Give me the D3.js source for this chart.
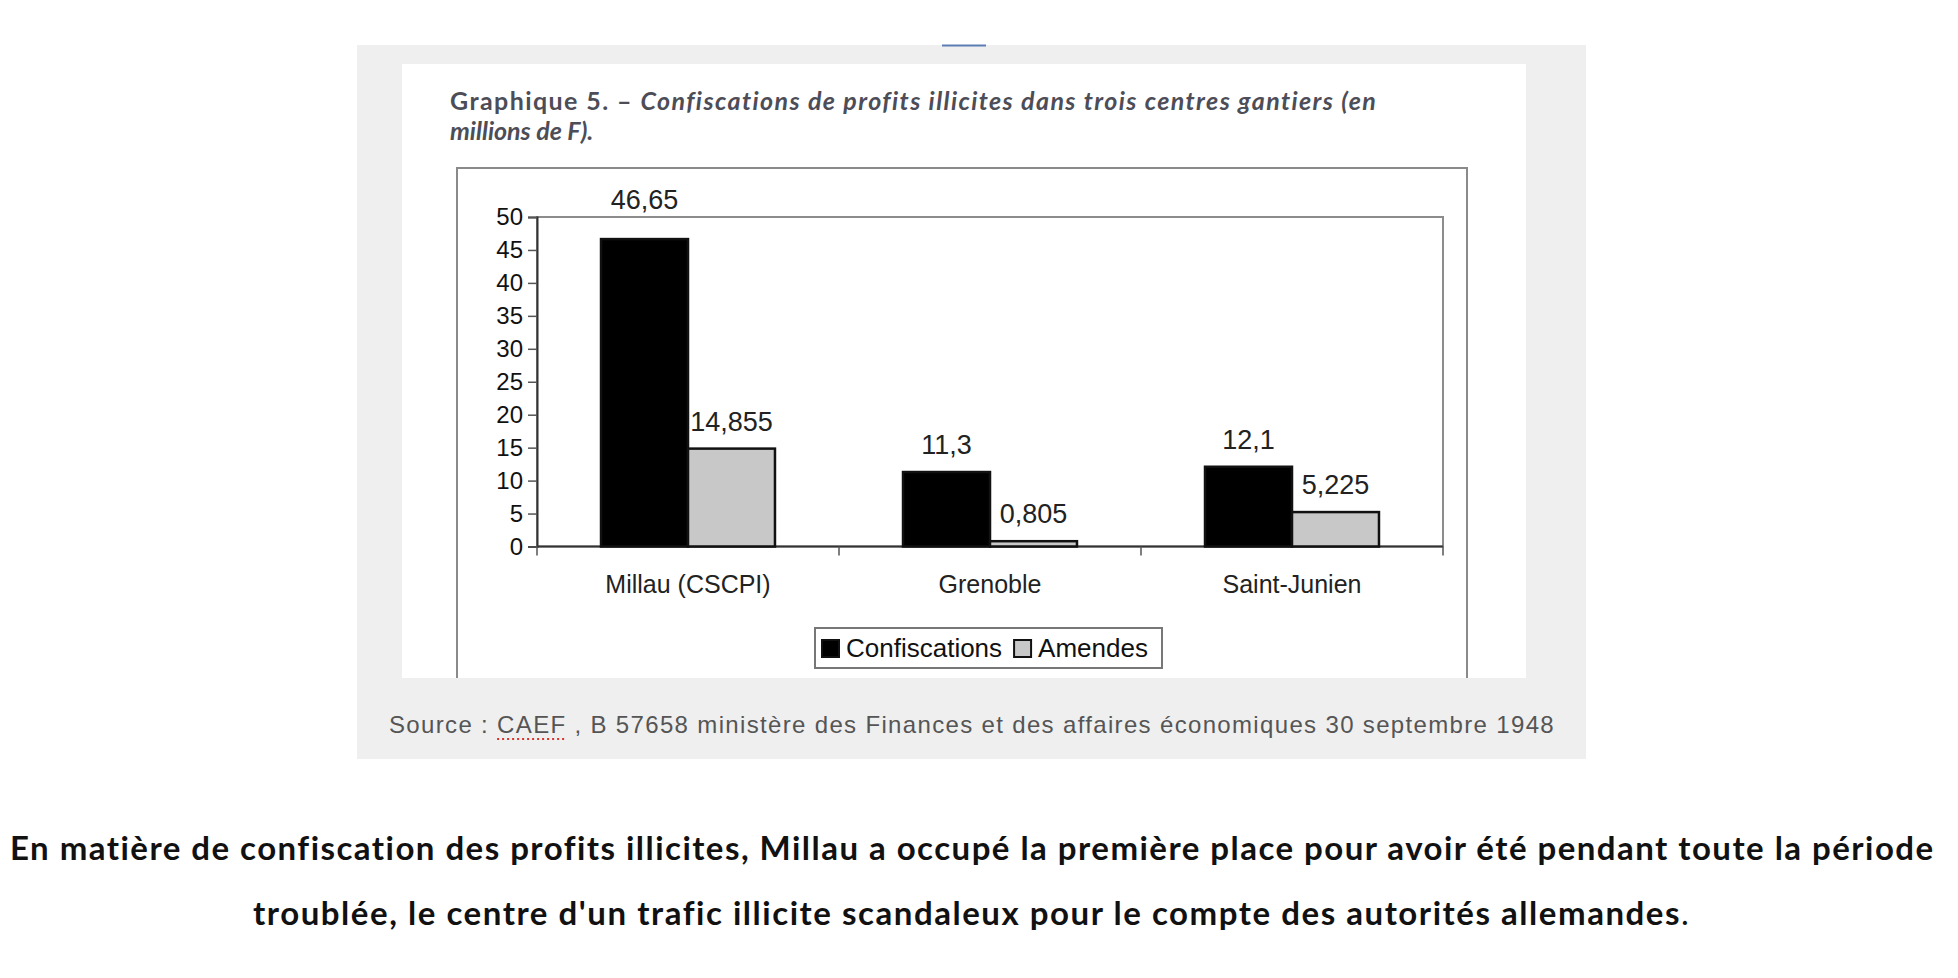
<!DOCTYPE html>
<html>
<head>
<meta charset="utf-8">
<script src="https://cdn.jsdelivr.net/npm/d3@7"></script>
<style>
body { margin: 0; background: #fff; }
</style>
</head>
<body>
<script>
// data
let categories = ["Millau (CSCPI)", "Grenoble", "Saint-Junien"];
let seriesNames = ["Confiscations", "Amendes"];
let confiscations = [46.65, 11.3, 12.1];
let amendes = [14.855, 0.805, 5.225];
let yTicks = [0, 5, 10, 15, 20, 25, 30, 35, 40, 45, 50];

let titleBold = "Graphique 5. – ";
let titleLine1 = "Confiscations de profits illicites dans trois centres gantiers (en";
let titleLine2 = "millions de F).";
let sourceParts = ["Source : ", "CAEF", " , B 57658 ministère des Finances et des affaires économiques 30 septembre 1948"];
let paragraph = [
    "En matière de confiscation des profits illicites, Millau a occupé la première place pour avoir été pendant toute la période",
    "troublée, le centre d'un trafic illicite scandaleux pour le compte des autorités allemandes"
];

let seriesColors = new Map([["Confiscations", "#000"], ["Amendes", "#c8c8c8"]]);
let values = new Map([["Confiscations", confiscations], ["Amendes", amendes]]);

let W = 1958, H = 978;
let plot = {left: 537, right: 1443, top: 217, bottom: 546.5};
let chartFont = "'Liberation Sans', Arial, sans-serif";

let graph = d3.select("body").append("svg")
    .attr("width", W)
    .attr("height", H)
    .attr("viewBox", [0, 0, W, H]);

// stretch text to the width it has in the picture
function fit(sel, target) {
    let w = sel.node().getComputedTextLength();
    let n = sel.text().length;
    sel.attr("letter-spacing", (target - w) / n);
}

// page panels
graph.append("rect").attr("x", 357).attr("y", 45).attr("width", 1229).attr("height", 714).attr("fill", "#efefef");
graph.append("line").attr("x1", 942).attr("x2", 986).attr("y1", 45.5).attr("y2", 45.5)
    .attr("stroke", "#5b7fb5").attr("stroke-width", 2);
graph.append("rect").attr("x", 402).attr("y", 64).attr("width", 1124).attr("height", 614).attr("fill", "#fff");

// title
let t1 = graph.append("text")
    .attr("x", 450).attr("y", 110)
    .style("font-family", "Lato, 'Open Sans', sans-serif")
    .style("font-size", "25px")
    .style("font-weight", 700)
    .attr("fill", "#4d4d57");
t1.append("tspan").text(titleBold);
t1.append("tspan").style("font-style", "italic").text(titleLine1);
fit(t1, 926);
graph.append("text")
    .attr("x", 450).attr("y", 140)
    .style("font-family", "Lato, 'Open Sans', sans-serif")
    .style("font-size", "25px")
    .style("font-weight", 700)
    .style("font-style", "italic")
    .attr("fill", "#4d4d57")
    .text(titleLine2);

// chart frame, open at the bottom where the picture is cut
graph.append("path")
    .attr("d", "M457,678V168H1467V678")
    .attr("fill", "none")
    .attr("stroke", "#8a8a8a")
    .attr("stroke-width", 2);

let x = d3.scaleBand(categories, [plot.left, plot.right]).paddingInner(0.424).paddingOuter(0.212);
let xs = d3.scaleBand(seriesNames, [0, x.bandwidth()]);
let y = d3.scaleLinear([0, 50], [plot.bottom, plot.top]);

graph.append("rect")
    .attr("x", plot.left).attr("y", plot.top)
    .attr("width", plot.right - plot.left).attr("height", plot.bottom - plot.top)
    .attr("fill", "#fff")
    .attr("stroke", "#8c8c8c")
    .attr("stroke-width", 2);

// y axis
graph.append("g")
    .attr("transform", `translate(${plot.left},0)`)
    .call(d3.axisLeft(y).tickValues(yTicks).tickSize(9).tickPadding(5))
    .call(g => g.select(".domain").attr("stroke", "#333").attr("stroke-width", 2))
    .call(g => g.selectAll(".tick line").attr("stroke", "#555").attr("stroke-width", 1.5))
    .call(g => g.selectAll("text")
        .style("font-family", chartFont)
        .style("font-size", "24px")
        .attr("fill", "#111"));

// x axis
let bounds = d3.range(categories.length + 1).map(i => plot.left + i * x.step());
let xAxis = graph.append("g");
xAxis.append("line")
    .attr("x1", plot.left).attr("x2", plot.right)
    .attr("y1", y(0)).attr("y2", y(0))
    .attr("stroke", "#333").attr("stroke-width", 2);
xAxis.selectAll("line.tick")
    .data(bounds)
    .join("line")
    .attr("class", "tick")
    .attr("x1", d => d).attr("x2", d => d)
    .attr("y1", y(0)).attr("y2", y(0) + 9)
    .attr("stroke", "#555").attr("stroke-width", 1.5);
xAxis.selectAll("text")
    .data(categories)
    .join("text")
    .attr("x", d => x(d) + x.bandwidth() / 2)
    .attr("y", 593)
    .attr("text-anchor", "middle")
    .style("font-family", chartFont)
    .style("font-size", "25px")
    .attr("fill", "#222")
    .text(d => d);

// bars
let bars = [];
for (let s of seriesNames) {
    values.get(s).forEach((v, i) => bars.push({s: s, c: categories[i], v: v}));
}
graph.append("g")
    .selectAll("rect")
    .data(bars)
    .join("rect")
    .attr("x", d => x(d.c) + xs(d.s))
    .attr("y", d => y(d.v))
    .attr("width", xs.bandwidth())
    .attr("height", d => y(0) - y(d.v))
    .attr("fill", d => seriesColors.get(d.s))
    .attr("stroke", "#111")
    .attr("stroke-width", 2.5);

// value labels sit above the bar, or above the frame if they would cross it
function labelY(v) {
    let b = y(v) - 18;
    if (b - 20 < plot.top) b = plot.top - 8;
    return b;
}
graph.append("g")
    .selectAll("text")
    .data(bars)
    .join("text")
    .attr("x", d => x(d.c) + xs(d.s) + xs.bandwidth() / 2)
    .attr("y", d => labelY(d.v))
    .attr("text-anchor", "middle")
    .style("font-family", chartFont)
    .style("font-size", "27px")
    .attr("fill", "#222")
    .text(d => String(d.v).replace(".", ","));

// legend
let legend = graph.append("g");
legend.append("rect")
    .attr("x", 815).attr("y", 628).attr("width", 347).attr("height", 40)
    .attr("fill", "#fff").attr("stroke", "#777").attr("stroke-width", 2);
let lx = 822;
for (let s of seriesNames) {
    legend.append("rect")
        .attr("x", lx).attr("y", 640).attr("width", 17).attr("height", 17)
        .attr("fill", seriesColors.get(s)).attr("stroke", "#111").attr("stroke-width", 2);
    let lt = legend.append("text")
        .attr("x", lx + 24).attr("y", 657)
        .style("font-family", chartFont)
        .style("font-size", "26px")
        .attr("fill", "#111")
        .text(s);
    lx += 24 + lt.node().getComputedTextLength() + 12;
}

// source line
let src = graph.append("text")
    .attr("x", 389).attr("y", 733)
    .style("font-family", "'Liberation Sans', Arial, sans-serif")
    .style("font-size", "24px")
    .attr("fill", "#555");
src.selectAll("tspan").data(sourceParts).join("tspan").text(d => d);
fit(src, 1166);
let node = src.node();
let start = sourceParts[0].length;
let ux0 = node.getStartPositionOfChar(start).x;
let ux1 = node.getEndPositionOfChar(start + sourceParts[1].length - 1).x;
graph.append("line")
    .attr("x1", ux0).attr("x2", ux1)
    .attr("y1", 739).attr("y2", 739)
    .attr("stroke", "#d9342b").attr("stroke-width", 2)
    .attr("stroke-dasharray", "2,3");

// paragraph under the figure
let pStarts = [10, 253];
let pEnds = [1935, 1690];
let pBase = [860, 925];
paragraph.forEach((line, i) => {
    let p = graph.append("text")
        .attr("x", pStarts[i]).attr("y", pBase[i])
        .style("font-family", "Lato, 'Open Sans', sans-serif")
        .style("font-size", "33px")
        .style("font-weight", 700)
        .attr("fill", "#111");
    p.append("tspan").text(line);
    if (i === paragraph.length - 1) p.append("tspan").style("font-weight", 400).text(".");
    fit(p, pEnds[i] - pStarts[i]);
});
</script>
</body>
</html>
